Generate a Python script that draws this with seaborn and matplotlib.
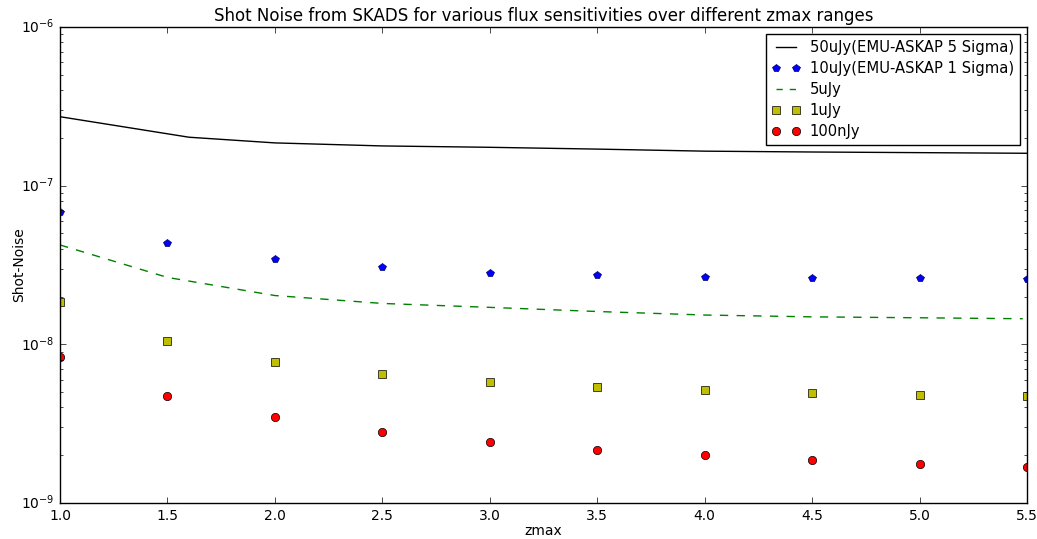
import matplotlib
matplotlib.use("Agg")
import matplotlib.pyplot as plt
import seaborn as sns
import numpy as np
import pandas as pd

# Redshift limits (zmax) at which the shot noise was evaluated
zmax_pts = [1.0, 1.5, 2.0, 2.5, 3.0, 3.5, 4.0, 4.5, 5.0, 5.5]
zmax_50u = [1.0, 1.6, 2.0, 2.5, 3.0, 3.5, 4.0, 4.5, 5.0, 5.5]
zmax_5u = [1.0, 1.5, 2.0, 2.5, 3.0, 3.5, 4.0, 4.5, 5.0, 5.48]

# Shot noise for each flux sensitivity
noise_50uJy = [2.72e-7, 2.02e-7, 1.86e-7, 1.78e-7, 1.745e-7, 1.70e-7, 1.65e-7, 1.63e-7, 1.615e-7, 1.60e-7]
noise_10uJy = [6.86e-8, 4.33e-8, 3.44e-8, 3.06e-8, 2.83e-8, 2.72e-8, 2.66e-8, 2.63e-8, 2.61e-8, 2.57e-8]
noise_5uJy = [4.23e-8, 2.64e-8, 2.03e-8, 1.81e-8, 1.71e-8, 1.61e-8, 1.53e-8, 1.49e-8, 1.47e-8, 1.45e-8]
noise_1uJy = [1.86e-8, 1.05e-8, 7.74e-9, 6.5e-9, 5.82e-9, 5.41e-9, 5.13e-9, 4.96e-9, 4.82e-9, 4.72e-9]
noise_100nJy = [8.32e-9, 4.74e-9, 3.47e-9, 2.81e-9, 2.41e-9, 2.17e-9, 2.00e-9, 1.87e-9, 1.77e-9, 1.69e-9]

labels = ["50uJy(EMU-ASKAP 5 Sigma)", "10uJy(EMU-ASKAP 1 Sigma)", "5uJy", "1uJy", "100nJy"]

plt.style.use("classic")
plt.rcParams["figure.facecolor"] = "white"
plt.rcParams["savefig.facecolor"] = "white"
plt.rcParams["font.family"] = ["DejaVu Sans"]

fig = plt.figure(figsize=(10.37, 5.39), dpi=100)
ax = fig.add_axes([0.0579, 0.0668, 0.9325, 0.8831])

sns.lineplot(x=zmax_50u, y=noise_50uJy, ax=ax, color="k", linestyle="-",
             linewidth=1.0, label=labels[0], errorbar=None, sort=False)
sns.lineplot(x=zmax_pts, y=noise_10uJy, ax=ax, color="b", linestyle="none",
             marker="p", markersize=6, markeredgecolor="#000066", markeredgewidth=0.5,
             label=labels[1], errorbar=None, sort=False)
sns.lineplot(x=zmax_5u, y=noise_5uJy, ax=ax, color="g", linestyle="--",
             linewidth=1.0, label=labels[2], errorbar=None, sort=False)
sns.lineplot(x=zmax_pts, y=noise_1uJy, ax=ax, color="y", linestyle="none",
             marker="s", markersize=6, markeredgecolor="k", markeredgewidth=0.5,
             label=labels[3], errorbar=None, sort=False)
sns.lineplot(x=zmax_pts, y=noise_100nJy, ax=ax, color="r", linestyle="none",
             marker="o", markersize=6, markeredgecolor="k", markeredgewidth=0.5,
             label=labels[4], errorbar=None, sort=False)

ax.set_yscale("log")
ax.set_xlim(1.0, 5.5)
ax.set_ylim(1e-9, 1e-6)
ax.set_xticks([1.0, 1.5, 2.0, 2.5, 3.0, 3.5, 4.0, 4.5, 5.0, 5.5])
ax.tick_params(labelsize=10)
ax.xaxis.get_offset_text().set_visible(False)
ax.yaxis.get_offset_text().set_visible(False)
ax.set_xlabel("zmax", fontsize=10, labelpad=1)
ax.set_ylabel("Shot-Noise", fontsize=10, labelpad=-4)
ax.set_title("Shot Noise from SKADS for various flux sensitivities over different zmax ranges",
             fontsize=12, pad=4)

leg = ax.legend(loc="upper right", numpoints=2, fontsize=10.6, frameon=True,
                fancybox=False, edgecolor="k", borderaxespad=0.5, handlelength=2.0,
                labelspacing=0.4, handletextpad=0.6, borderpad=0.4)
leg.get_lines()[2].set_dashes([4.5, 5])

fig.savefig("out.png", dpi=100)
